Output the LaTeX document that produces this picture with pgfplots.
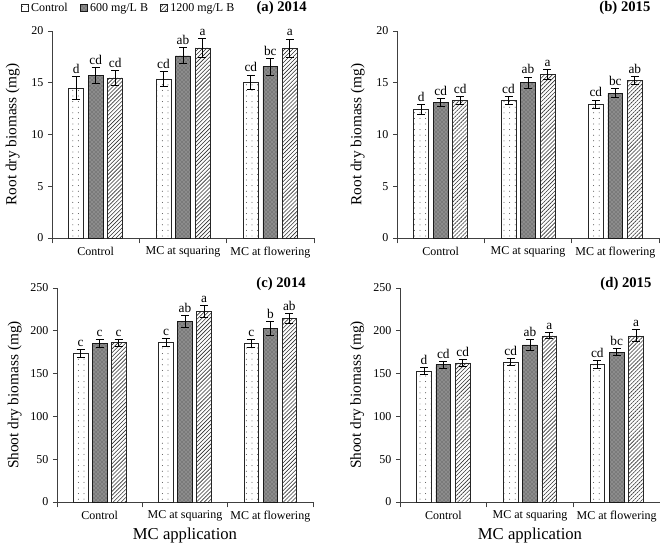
\documentclass[border=0pt]{standalone}
\usepackage{fontspec}
\setmainfont{Liberation Serif}
\usepackage{pgfplots}
\pgfplotsset{compat=1.18}
\usetikzlibrary{patterns,patterns.meta}

\pgfplotsset{
  panel/.style={
    scale only axis,
    xmin=-0.5, xmax=2.5, ymin=0,
    axis x line*=bottom, axis y line*=left,
    axis line style={black!75, line width=0.6pt},
    xtick={0,1,2},
    xticklabels={Control, MC at squaring, MC at flowering},
    major x tick style={draw=none},
    minor xtick={-0.5,0.5,1.5,2.5},
    minor tick length=4pt,
    major tick length=3pt,
    tick align=outside,
    tick style={black!75, line width=0.6pt},
    ticklabel style={font=\fontsize{9}{10}\selectfont},
    /pgf/number format/assume math mode=true,
    ylabel style={font=\fontsize{11.5}{12}\selectfont, anchor=center},
    xlabel style={font=\fontsize{12.5}{13}\selectfont, anchor=center},
    clip=false,
  },
  errp/.style={draw=none, mark=none, forget plot,
    error bars/y dir=both, error bars/y explicit,
    error bars/error bar style={draw=black, line width=0.7pt, solid},
    error bars/error mark options={draw=black, line width=0.7pt, mark size=3pt, solid, rotate=90}},
  legimg/.style={legend image code/.code={\draw[##1, line width=0.5pt] (0pt,-2.6pt) rectangle (5.2pt,2.6pt);}},
  ctrl/.style={ybar, bar width=0.17, bar shift=-0.223, draw=black!85, line width=0.5pt, fill=white,
    postaction={pattern={Dots[distance=4.2pt,radius=0.35pt]}, pattern color=black!80}, legimg},
  mid/.style={ybar, bar width=0.17, bar shift=0, draw=black!90, line width=0.5pt, fill=black!45,
    postaction={pattern=crosshatch dots, pattern color=black!75}, legimg},
  high/.style={ybar, bar width=0.17, bar shift=0.223, draw=black!85, line width=0.5pt, fill=white,
    postaction={pattern={Lines[angle=45,distance=2.1pt,line width=0.45pt]}, pattern color=black!80}, legimg},
  lab/.style={draw=none, mark=none, forget plot, nodes near coords, point meta=explicit symbolic,
    every node near coord/.append style={anchor=south, font=\fontsize{10}{10}\selectfont, inner sep=2pt, black}},
}

\begin{document}
\begin{tikzpicture}
\useasboundingbox (0,0) rectangle (495pt,408pt);

% (a) Root 2014
\begin{axis}[panel, at={(39pt,229.5pt)}, anchor=south west,
  width=196.5pt, height=155.25pt, ymax=20, ytick={0,5,10,15,20},
  ylabel={Root dry biomass (mg)},
  ylabel style={at={(axis description cs:-0.15,0.5)}},
  legend style={at={(axis description cs:-0.12,1.11)}, anchor=west, draw=none, fill=none,
    legend columns=3, font=\fontsize{9}{10}\selectfont,
    /tikz/every even column/.append style={column sep=7pt},
    legend cell align=left, inner sep=0pt},
  ]
\addplot[ctrl] coordinates {(0,14.5) (1,15.37) (2,15.05)};
\addplot[mid]  coordinates {(0,15.7) (1,17.6) (2,16.56)};
\addplot[high] coordinates {(0,15.47) (1,18.36) (2,18.33)};
\legend{Control, 600 mg/L B, 1200 mg/L B}
\addplot[errp] coordinates {(-0.223,14.5) +- (0,1.08) (0.777,15.37) +- (0,0.72) (1.777,15.05) +- (0,0.70)};
\addplot[errp] coordinates {(0,15.7) +- (0,0.74) (1,17.6) +- (0,0.77) (2,16.56) +- (0,0.82)};
\addplot[errp] coordinates {(0.223,15.47) +- (0,0.70) (1.223,18.36) +- (0,0.90) (2.223,18.33) +- (0,0.90)};
\addplot[lab] coordinates {(-0.223,15.58) [d] (0,16.44) [cd] (0.223,16.17) [cd]
  (0.777,16.09) [cd] (1,18.37) [ab] (1.223,19.26) [a]
  (1.777,15.75) [cd] (2,17.38) [bc] (2.223,19.23) [a]};
\node[anchor=east, font=\bfseries\fontsize{11}{12}\selectfont] at (axis description cs:0.99,1.11) {(a) 2014};
\end{axis}

% (b) Root 2015
\begin{axis}[panel, at={(297.75pt,229.5pt)}, anchor=south west,
  width=196.5pt, height=155.25pt, ymax=20, ytick={0,5,10,15,20},
  ylabel={Root dry biomass (mg)},
  ylabel style={at={(axis description cs:-0.15,0.5)}},
  ]
\addplot[ctrl] coordinates {(0,12.41) (1,13.3) (2,12.9)};
\addplot[mid]  coordinates {(0,13.09) (1,15.0) (2,14.0)};
\addplot[high] coordinates {(0,13.3) (1,15.8) (2,15.24)};
\addplot[errp] coordinates {(-0.223,12.41) +- (0,0.45) (0.777,13.3) +- (0,0.40) (1.777,12.9) +- (0,0.43)};
\addplot[errp] coordinates {(0,13.09) +- (0,0.40) (1,15.0) +- (0,0.55) (2,14.0) +- (0,0.45)};
\addplot[errp] coordinates {(0.223,13.3) +- (0,0.40) (1.223,15.8) +- (0,0.50) (2.223,15.24) +- (0,0.40)};
\addplot[lab] coordinates {(-0.223,12.86) [d] (0,13.49) [cd] (0.223,13.70) [cd]
  (0.777,13.70) [cd] (1,15.55) [ab] (1.223,16.30) [a]
  (1.777,13.33) [cd] (2,14.45) [bc] (2.223,15.64) [ab]};
\node[anchor=east, font=\bfseries\fontsize{11}{12}\selectfont] at (axis description cs:0.985,1.11) {(b) 2015};
\end{axis}

% (c) Shoot 2014
\begin{axis}[panel, at={(42.75pt,31.5pt)}, anchor=south west,
  width=192pt, height=160.5pt, ymax=250, ytick={0,50,100,150,200,250},
  ylabel={Shoot dry biomass (mg)},
  ylabel style={at={(axis description cs:-0.165,0.5)}},
  xlabel={MC application},
  xlabel style={at={(axis description cs:0.5,-0.155)}},
  ]
\addplot[ctrl] coordinates {(0,173.9) (1,186.4) (2,185.2)};
\addplot[mid]  coordinates {(0,185.2) (1,211.3) (2,203.1)};
\addplot[high] coordinates {(0,186.0) (1,222.6) (2,214.8)};
\addplot[errp] coordinates {(-0.223,173.9) +- (0,4.7) (0.777,186.4) +- (0,4.3) (1.777,185.2) +- (0,5.0)};
\addplot[errp] coordinates {(0,185.2) +- (0,5.0) (1,211.3) +- (0,7.0) (2,203.1) +- (0,8.0)};
\addplot[errp] coordinates {(0.223,186.0) +- (0,4.0) (1.223,222.6) +- (0,6.8) (2.223,214.8) +- (0,5.8)};
\addplot[lab] coordinates {(-0.223,178.6) [c] (0,190.2) [c] (0.223,190.0) [c]
  (0.777,190.7) [c] (1,218.3) [ab] (1.223,229.4) [a]
  (1.777,190.2) [c] (2,211.1) [b] (2.223,220.6) [ab]};
\node[anchor=east, font=\bfseries\fontsize{11}{12}\selectfont] at (axis description cs:0.99,1.02) {(c) 2014};
\end{axis}

% (d) Shoot 2015
\begin{axis}[panel, at={(300pt,31.5pt)}, anchor=south west,
  width=195pt, height=160.5pt, ymax=250, ytick={0,50,100,150,200,250},
  ylabel={Shoot dry biomass (mg)},
  ylabel style={at={(axis description cs:-0.165,0.5)}},
  xlabel={MC application},
  xlabel style={at={(axis description cs:0.5,-0.155)}},
  ]
\addplot[ctrl] coordinates {(0,152.7) (1,163.7) (2,160.5)};
\addplot[mid]  coordinates {(0,160.5) (1,183.6) (2,175.0)};
\addplot[high] coordinates {(0,162.5) (1,194.1) (2,194.1)};
\addplot[errp] coordinates {(-0.223,152.7) +- (0,4.0) (0.777,163.7) +- (0,4.0) (1.777,160.5) +- (0,5.0)};
\addplot[errp] coordinates {(0,160.5) +- (0,4.0) (1,183.6) +- (0,6.5) (2,175.0) +- (0,4.3)};
\addplot[errp] coordinates {(0.223,162.5) +- (0,4.0) (1.223,194.1) +- (0,3.5) (2.223,194.1) +- (0,7.0)};
\addplot[lab] coordinates {(-0.223,156.7) [d] (0,164.5) [cd] (0.223,166.5) [cd]
  (0.777,167.7) [cd] (1,190.1) [ab] (1.223,197.6) [a]
  (1.777,165.5) [cd] (2,179.3) [bc] (2.223,201.1) [a]};
\node[anchor=east, font=\bfseries\fontsize{11}{12}\selectfont] at (axis description cs:0.985,1.02) {(d) 2015};
\end{axis}
\end{tikzpicture}
\end{document}
